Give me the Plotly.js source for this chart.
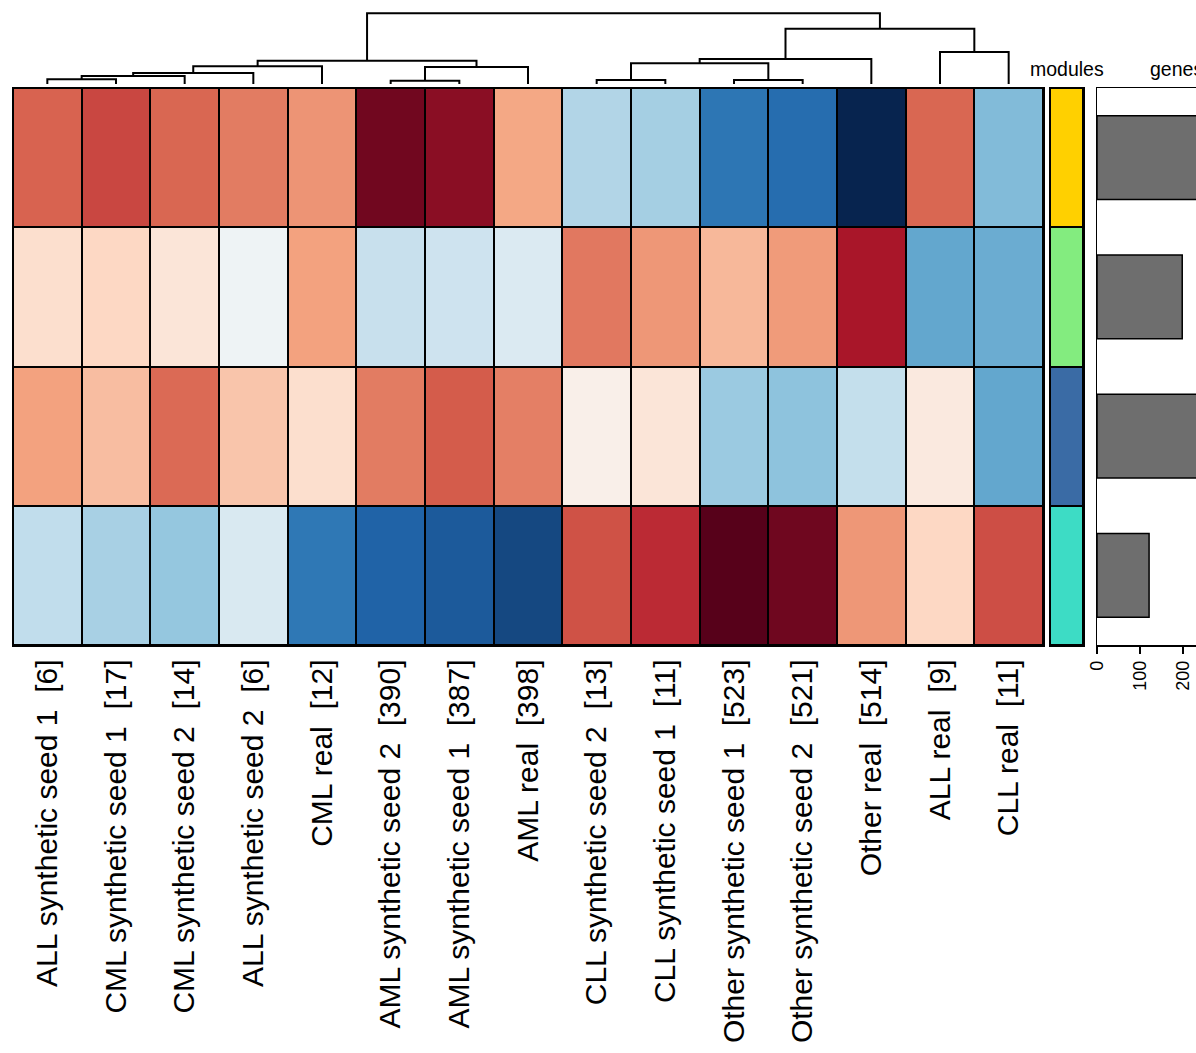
<!DOCTYPE html>
<html>
<head>
<meta charset="utf-8">
<script src="https://cdn.plot.ly/plotly-3.0.1.min.js"></script>
<style>
  html, body { margin: 0; padding: 0; background: #fff; }
  #chart { width: 1196px; height: 1053px; }
</style>
</head>
<body>
<div id="chart"></div>
<script>
// ---------- data ----------
const sampleLabels = [
  "ALL synthetic seed 1  [6]",
  "CML synthetic seed 1  [17]",
  "CML synthetic seed 2  [14]",
  "ALL synthetic seed 2  [6]",
  "CML real  [12]",
  "AML synthetic seed 2  [390]",
  "AML synthetic seed 1  [387]",
  "AML real  [398]",
  "CLL synthetic seed 2  [13]",
  "CLL synthetic seed 1  [11]",
  "Other synthetic seed 1  [523]",
  "Other synthetic seed 2  [521]",
  "Other real  [514]",
  "ALL real  [9]",
  "CLL real  [11]"
];
const moduleNames = ["yellow", "green", "blue", "turquoise"];
const moduleColors = ["#FFD000", "#83EC7F", "#3A6BA5", "#3DDCC5"];

// module eigengene values (rows = modules, columns = samples)
const rowYellow    = [0.59, 0.67, 0.58, 0.52, 0.45, 0.94, 0.886, 0.39, -0.30, -0.34, -0.73, -0.77, -0.99, 0.58, -0.44];
const rowGreen     = [0.17, 0.21, 0.13, -0.05, 0.41, -0.23, -0.21, -0.15, 0.53, 0.44, 0.33, 0.43, 0.82, -0.52, -0.50];
const rowBlue      = [0.41, 0.31, 0.57, 0.28, 0.17, 0.52, 0.61, 0.51, 0.06, 0.13, -0.37, -0.41, -0.24, 0.10, -0.52];
const rowTurquoise = [-0.25, -0.33, -0.39, -0.16, -0.72, -0.81, -0.835, -0.887, 0.64, 0.75, 0.995, 0.945, 0.44, 0.21, 0.65];

// genes per module
const geneCounts = [300, 198, 300, 121];
const geneTicks = [0, 100, 200];

// column dendrogram (hclust style: negative = leaf (1-based display order), positive = earlier merge)
const mergeLeft   = [-1, 1, 2, 3, -6, 5, 4, -9, -11, 8, 10, -14, 11, 7];
const mergeRight  = [-2, -3, -4, -5, -7, -8, 6, -10, -12, 9, -13, -15, 12, 13];
const mergeHeight = [4.7, 8, 11, 17.7, 3.3, 17, 23.3, 4, 4, 20.7, 25, 32, 55.3, 70.7];

// ---------- build ----------
const W = 1196, H = 1053;
const px = v => v / W;
const py = v => 1 - v / H;

const zMain = [rowYellow, rowGreen, rowBlue, rowTurquoise];
const nS = sampleLabels.length;
const idx = sampleLabels.map((_, i) => i);
const rowIdx = moduleNames.map((_, i) => i);

const rdbu = [
  [0.0, "#06214A"], [0.1, "#2166AC"], [0.2, "#4393C3"], [0.3, "#92C5DE"],
  [0.4, "#D1E5F0"], [0.5, "#F7F7F7"], [0.6, "#FDDBC7"], [0.7, "#F4A582"],
  [0.8, "#D6604D"], [0.9, "#B2182B"], [1.0, "#55001A"]
];

// dendrogram segments
const mx = [], mh = [];
const dx = [], dy = [];
function pos(ref) {
  if (ref < 0) return [-ref - 1, 0];
  return [mx[ref - 1], mh[ref - 1]];
}
for (let k = 0; k < mergeLeft.length; k++) {
  const [xl, hl] = pos(mergeLeft[k]);
  const [xr, hr] = pos(mergeRight[k]);
  const h = mergeHeight[k];
  dx.push(xl, xl, xr, xr, null);
  dy.push(hl, h, h, hr, null);
  mx.push((xl + xr) / 2);
  mh.push(h);
}

// discrete module colorscale
const modScale = [];
moduleColors.forEach((c, i) => {
  const n = moduleColors.length - 1;
  const a = Math.max(0, (i - 0.5) / n), b = Math.min(1, (i + 0.5) / n);
  modScale.push([a, c], [b, c]);
});

const font = "Liberation Sans, Arial, Helvetica, sans-serif";

const traces = [
  {
    type: "heatmap", x: idx, y: rowIdx, z: zMain,
    colorscale: rdbu, zmin: -1, zmax: 1, showscale: false,
    xgap: 2, ygap: 2, hoverinfo: "skip",
    xaxis: "x", yaxis: "y"
  },
  {
    type: "scatter", mode: "lines", x: dx, y: dy,
    line: { color: "#000", width: 2 }, hoverinfo: "skip",
    xaxis: "x2", yaxis: "y2", showlegend: false
  },
  {
    type: "heatmap", x: [0], y: rowIdx, z: rowIdx.map(i => [i]),
    colorscale: modScale, zmin: 0, zmax: moduleColors.length - 1, showscale: false,
    xgap: 2, ygap: 2, hoverinfo: "skip",
    xaxis: "x3", yaxis: "y3"
  },
  {
    type: "bar", orientation: "h", x: geneCounts, y: rowIdx, width: 0.6,
    marker: { color: "#6E6E6E", line: { color: "#000", width: 1.5 } },
    hoverinfo: "skip", xaxis: "x4", yaxis: "y4", showlegend: false
  }
];

const hmTop = 88, hmBot = 645;
const layout = {
  width: W, height: H,
  margin: { l: 0, r: 0, t: 0, b: 0 },
  paper_bgcolor: "#fff", plot_bgcolor: "rgba(0,0,0,0)",
  font: { family: font, color: "#000" },
  showlegend: false,
  xaxis: {
    domain: [px(13), px(1043)], range: [-0.5, nS - 0.5], anchor: "y",
    tickmode: "array", tickvals: idx, ticktext: sampleLabels.map(s => s.replace(/  /g, "\u00a0 ")),
    tickangle: -90, tickfont: { size: 30, family: font, color: "#000" },
    ticks: "", ticklabelstandoff: 1,
    showline: true, mirror: true, linecolor: "#000", linewidth: 1.5,
    showgrid: false, zeroline: false, fixedrange: true
  },
  yaxis: {
    domain: [py(hmBot), py(hmTop)], range: [moduleNames.length - 0.5, -0.5], anchor: "x",
    showticklabels: false, ticks: "",
    showline: true, mirror: true, linecolor: "#000", linewidth: 1.5,
    showgrid: false, zeroline: false, fixedrange: true
  },
  xaxis2: {
    domain: [px(13), px(1043)], range: [-0.5, nS - 0.5], anchor: "y2", visible: false
  },
  yaxis2: {
    domain: [py(84), 1], range: [0, 84], anchor: "x2", visible: false
  },
  xaxis3: {
    domain: [px(1050), px(1083)], range: [-0.5, 0.5], anchor: "y3",
    showticklabels: false, ticks: "",
    showline: true, mirror: true, linecolor: "#000", linewidth: 1.5,
    showgrid: false, zeroline: false
  },
  yaxis3: {
    domain: [py(hmBot), py(hmTop)], range: [moduleNames.length - 0.5, -0.5], anchor: "x3",
    showticklabels: false, ticks: "",
    showline: true, mirror: true, linecolor: "#000", linewidth: 1.5,
    showgrid: false, zeroline: false
  },
  xaxis4: {
    domain: [px(1097), 1], range: [0, 230], anchor: "y4",
    tickmode: "array", tickvals: geneTicks, ticktext: geneTicks.map(String),
    tickangle: -90, tickfont: { size: 18, family: font, color: "#000" },
    ticks: "outside", ticklen: 7, tickwidth: 1.5, tickcolor: "#000",
    showline: true, mirror: true, linecolor: "#000", linewidth: 1.5,
    showgrid: false, zeroline: false
  },
  yaxis4: {
    domain: [py(hmBot), py(hmTop)], range: [moduleNames.length - 0.5, -0.5], anchor: "x4",
    showticklabels: false, ticks: "",
    showline: true, mirror: true, linecolor: "#000", linewidth: 1.5,
    showgrid: false, zeroline: false
  },
  shapes: [
    { type: "rect", xref: "x domain", yref: "y domain", x0: 0, x1: 1, y0: 0, y1: 1,
      fillcolor: "#000", line: { width: 0 }, layer: "below" },
    { type: "rect", xref: "x3 domain", yref: "y3 domain", x0: 0, x1: 1, y0: 0, y1: 1,
      fillcolor: "#000", line: { width: 0 }, layer: "below" }
  ],
  annotations: [
    { text: "modules", xref: "paper", yref: "paper", x: px(1066.5), y: py(82),
      xanchor: "center", yanchor: "bottom", showarrow: false,
      font: { size: 19.5, family: font, color: "#000" } },
    { text: "genes", xref: "paper", yref: "paper", x: px(1148), y: py(82),
      xanchor: "left", yanchor: "bottom", showarrow: false,
      font: { size: 19.5, family: font, color: "#000" } }
  ]
};

Plotly.newPlot("chart", traces, layout, { staticPlot: true, displayModeBar: false });
</script>
</body>
</html>
